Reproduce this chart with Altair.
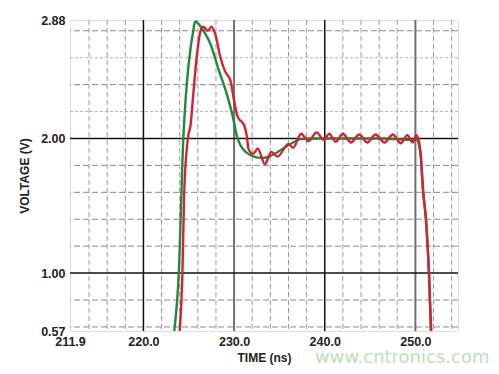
import altair as alt
import pandas as pd

# ---- data ----
green_t = [223.4, 223.9, 224.4, 224.8, 225.2, 225.5, 225.7, 226.2, 226.8, 227.4, 228.3, 229.2,
           229.9, 230.3, 230.7, 231.0, 231.8, 232.5, 233.2, 234.3, 235.4, 236.5, 237.3, 238.5,
           240.0, 242.0, 244.0, 246.0, 248.0, 249.5, 250.2, 250.4, 250.6, 250.8, 251.2, 251.5, 251.7]
green_v = [0.57, 1.00, 2.00, 2.42, 2.67, 2.80, 2.87, 2.84, 2.78, 2.70, 2.51, 2.33,
           2.15, 2.02, 1.95, 1.92, 1.875, 1.86, 1.855, 1.88, 1.925, 1.97, 1.995, 2.0,
           2.0, 2.0, 2.0, 2.0, 1.995, 1.99, 1.99, 1.95, 1.86, 1.64, 1.38, 1.00, 0.57]

red_t = [224.0, 224.3, 224.5, 224.9, 225.2, 225.5, 225.9, 226.3, 226.6, 227.1, 227.5, 227.9,
         228.5, 229.0, 229.6, 230.0, 230.4, 231.1, 231.4, 231.6, 232.1, 232.6, 233.4, 234.1,
         234.8, 236.0, 236.5, 237.4, 238.2, 239.1, 239.9, 240.5, 241.2, 242.0, 242.9, 243.8,
         244.7, 245.6, 246.6, 247.5, 248.4, 249.1, 249.7, 250.1, 250.35, 250.6, 250.85, 251.2,
         251.5, 251.75]
red_v = [0.57, 1.00, 1.60, 2.00, 2.10, 2.33, 2.62, 2.80, 2.83, 2.80, 2.83, 2.78,
         2.60, 2.50, 2.43, 2.28, 2.16, 2.10, 2.02, 1.92, 1.885, 1.925, 1.81, 1.90,
         1.865, 1.96, 1.93, 2.035, 1.98, 2.045, 1.99, 2.035, 1.975, 2.035, 1.97, 2.03,
         1.97, 2.03, 1.97, 2.03, 1.965, 2.025, 1.97, 2.025, 1.99, 1.87, 1.62, 1.36,
         1.00, 0.57]

x_ticks = [211.9, 220.0, 230.0, 240.0, 250.0]
y_ticks = [0.57, 1.00, 2.00, 2.88]
x_domain = [211.9, 254.7]
y_domain = [0.57, 2.88]

v_minor = [214, 216, 218, 222, 224, 226, 228, 232, 234, 236, 238, 242, 244, 246, 248, 252, 254]
h_minor_dark = [0.6, 0.8, 1.2, 1.4, 1.6, 1.8, 2.4, 2.8]
h_minor_light = [2.2, 2.6]
v_major_black = [220, 240]
v_major_gray = [230, 250]
h_major = [1.0, 2.0]

FONT = "Liberation Sans"
X_TITLE = "TIME (ns)"
Y_TITLE = "VOLTAGE (V)"
WATERMARK = "www.cntronics.com"

xs = alt.Scale(domain=x_domain, nice=False, zero=False)
ys = alt.Scale(domain=y_domain, nice=False, zero=False)

x_axis = alt.Axis(values=x_ticks, format=".1f", grid=False, ticks=False, domain=False,
                  labelFlush=False, labelPadding=4, titlePadding=5,
                  labelFont=FONT, labelFontSize=12.5, labelFontWeight="bold",
                  labelColor="#222222", titleFont=FONT, titleFontSize=12,
                  titleFontWeight="bold", titleColor="#222222")
y_axis = alt.Axis(values=y_ticks, format=".2f", grid=False, ticks=False, domain=False,
                  labelFlush=False, labelPadding=5, titlePadding=9,
                  labelFont=FONT, labelFontSize=12.5, labelFontWeight="bold",
                  labelColor="#222222", titleFont=FONT, titleFontSize=12,
                  titleFontWeight="bold", titleColor="#222222")

df = pd.concat([
    pd.DataFrame({"t": green_t, "v": green_v, "s": "green"}),
    pd.DataFrame({"t": red_t, "v": red_v, "s": "red"}),
])


def xenc(field):
    return alt.X(field, scale=xs, axis=x_axis, title=X_TITLE)


def yenc(field):
    return alt.Y(field, scale=ys, axis=y_axis, title=Y_TITLE)


hlight = alt.Chart(pd.DataFrame({"v": h_minor_light})).mark_rule(
    color="#b5b5b5", strokeWidth=1, strokeDash=[3, 2]).encode(y=yenc("v:Q"))
hdark = alt.Chart(pd.DataFrame({"v": h_minor_dark})).mark_rule(
    color="#8a8a8a", strokeWidth=1, strokeDash=[6, 3]).encode(y=yenc("v:Q"))
vmin = alt.Chart(pd.DataFrame({"t": v_minor})).mark_rule(
    color="#9a9a9a", strokeWidth=1, strokeDash=[5, 3]).encode(x=xenc("t:Q"))
vgray = alt.Chart(pd.DataFrame({"t": v_major_gray})).mark_rule(
    color="#707070", strokeWidth=2).encode(x=xenc("t:Q"))
vblack = alt.Chart(pd.DataFrame({"t": v_major_black})).mark_rule(
    color="#111111", strokeWidth=1.5).encode(x=xenc("t:Q"))
hmaj = alt.Chart(pd.DataFrame({"v": h_major})).mark_rule(
    color="#111111", strokeWidth=1.5).encode(y=yenc("v:Q"))

lines = alt.Chart(df).mark_line(strokeWidth=2.4, interpolate="monotone", clip=True).encode(
    x=xenc("t:Q"),
    y=yenc("v:Q"),
    color=alt.Color("s:N", scale=alt.Scale(domain=["green", "red"], range=["#1f8a3e", "#d42234"]),
                    legend=None),
    order=alt.Order("s:N"),
    detail="s:N",
)

wm = alt.Chart(pd.DataFrame({"w": [WATERMARK]})).mark_text(
    align="left", baseline="alphabetic", font="DejaVu Sans", fontSize=18, color="#bfe0b5").encode(
    text="w:N", x=alt.value(245), y=alt.value(343))

chart = alt.layer(hlight, hdark, vmin, vgray, vblack, hmaj, lines, wm).properties(
    width=388, height=311, autosize="none",
    padding={"left": 62, "top": 12, "right": 33, "bottom": 35},
).configure_view(stroke="#555555", strokeWidth=2).configure(background="white")

chart.save("out.html", embed_options={"renderer": "svg", "actions": False})
